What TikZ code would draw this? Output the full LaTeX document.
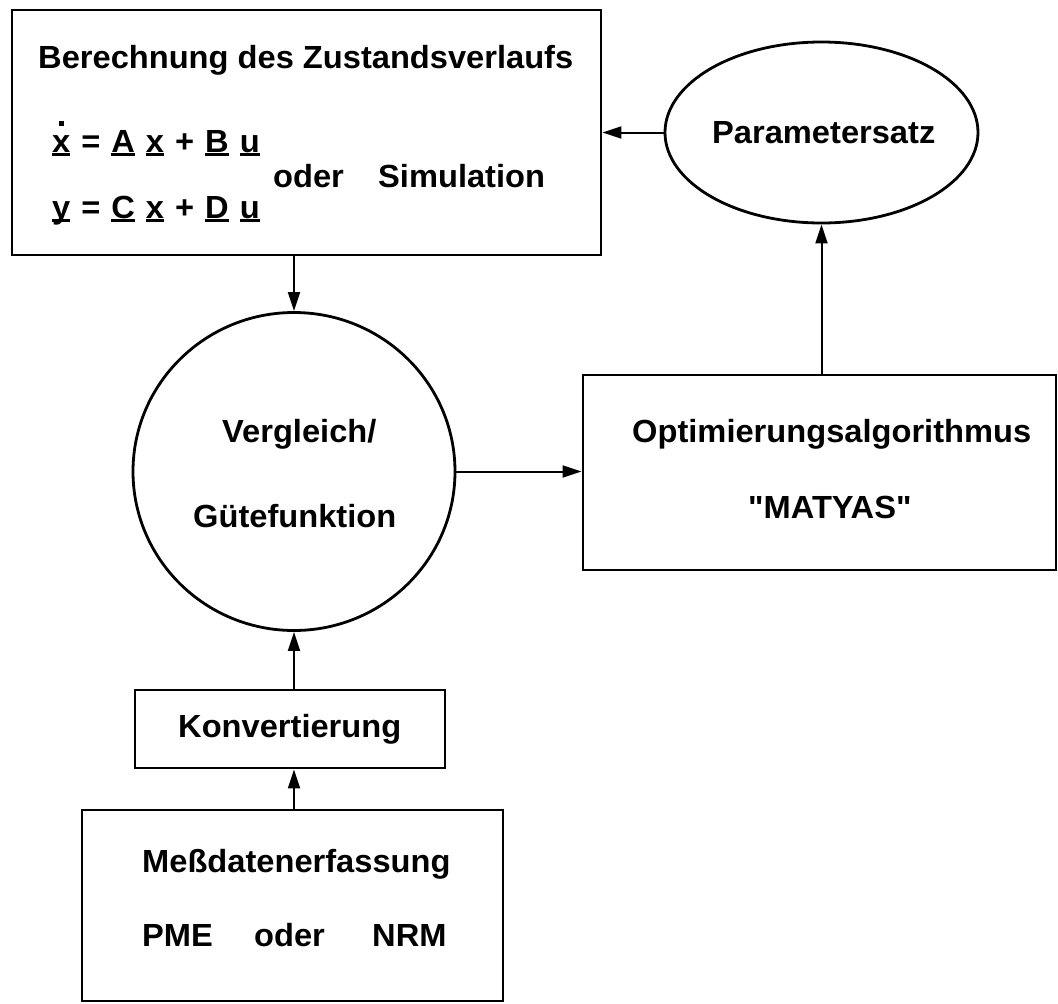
\documentclass[tikz,border=0pt]{standalone}
\usepackage{fontspec}
\newfontfamily\lblfont{Liberation Sans}[FakeStretch=1.02]
\usetikzlibrary{arrows.meta,shapes.geometric}

% underlined vector symbol, rule set just under the baseline
\newsavebox\vecbox
\newsavebox\dotbox
\newcommand\uvec[1]{\sbox\vecbox{#1}\rlap{\rule[-3.5pt]{\wd\vecbox}{2.6pt}}\usebox\vecbox}
% time derivative dot placed over a symbol
\newcommand\tdot[1]{\sbox\dotbox{#1}\rlap{\makebox[\wd\dotbox]{\raisebox{0.8em}{\rule{5.4pt}{5.4pt}}}}\usebox\dotbox}
% gap between the terms of the state equations
\newcommand\tgap{\hspace{11pt}}

\tikzset{
  block/.style={draw, line width=2.8pt, rectangle, inner sep=0pt},
  roundblock/.style={draw, line width=2.8pt, ellipse, inner sep=0pt},
  lbl/.style={anchor=base west, inner sep=0pt, font=\lblfont\bfseries\fontsize{32}{38}\selectfont},
  arr/.style={line width=2pt, -{Triangle[length=19pt,width=12pt]}},
}

\begin{document}
\begin{tikzpicture}[x=1pt,y=-1pt]
\useasboundingbox (0,0) rectangle (1058,1004);

% blocks
\node[block, minimum width=589pt, minimum height=245pt] (calc) at (306.5,132.5) {};
\node[roundblock, minimum width=313pt, minimum height=181pt] (param) at (821.5,132.5) {};
\node[roundblock, minimum width=322pt, minimum height=318pt] (cmp) at (294,471.5) {};
\node[block, minimum width=473pt, minimum height=195pt] (opt) at (819.5,472.5) {};
\node[block, minimum width=310pt, minimum height=78pt] (conv) at (290,729) {};
\node[block, minimum width=421pt, minimum height=191pt] (meas) at (292.5,905.5) {};

% texts
\node[lbl] (calcT) at (38,68) {Berechnung des Zustandsverlaufs};
\node[lbl] (eqA) at (52,152) {\uvec{\tdot{x}}\tgap=\tgap\uvec{A}\tgap\uvec{x}\tgap+\tgap\uvec{B}\tgap\uvec{u}};
\node[lbl] (eqB) at (52,218) {\uvec{y}\tgap=\tgap\uvec{C}\tgap\uvec{x}\tgap+\tgap\uvec{D}\tgap\uvec{u}};
\node[lbl] (orA) at (273,187) {oder};
\node[lbl] (simT) at (378,187) {Simulation};
\node[lbl] (paramT) at (712,143) {Parametersatz};
\node[lbl] (cmpA) at (222,442) {Vergleich/};
\node[lbl] (cmpB) at (193,527) {Gütefunktion};
\node[lbl] (optA) at (632,442) {Optimierungsalgorithmus};
\node[lbl] (optB) at (748,518) {"MATYAS"};
\node[lbl] (convT) at (178,737) {Konvertierung};
\node[lbl] (measT) at (142,872) {Meßdatenerfassung};
\node[lbl] (pme) at (142,946) {PME};
\node[lbl] (orB) at (254,946) {oder};
\node[lbl] (nrm) at (372,946) {NRM};

% connectors
\draw[arr] (param.west) -- (calc.east |- param.west);
\draw[arr] (cmp.north |- calc.south) -- (cmp.north);
\draw[arr] (cmp.east) -- (cmp.east -| opt.west);
\draw[arr] (param.south |- opt.north) -- (param.south);
\draw[arr] (cmp.south |- conv.north) -- (cmp.south);
\draw[arr] (cmp.south |- meas.north) -- (cmp.south |- conv.south);
\end{tikzpicture}
\end{document}
